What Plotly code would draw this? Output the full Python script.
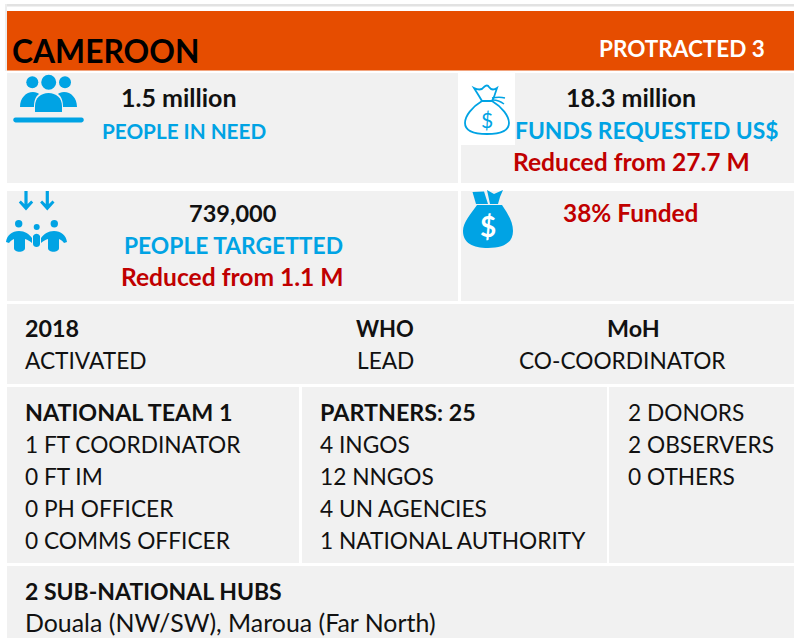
import plotly.graph_objects as go

COUNTRY = "CAMEROON"
STATUS = "PROTRACTED 3"
PEOPLE_IN_NEED = ["1.5 million", "PEOPLE IN NEED"]
FUNDS = ["18.3 million", "FUNDS REQUESTED US$", "Reduced from 27.7 M"]
TARGETED = ["739,000", "PEOPLE TARGETTED", "Reduced from 1.1 M"]
FUNDED = "38% Funded"
ACTIVATION = ["2018", "ACTIVATED"]
LEAD = ["WHO", "LEAD"]
CO_LEAD = ["MoH", "CO-COORDINATOR"]
TEAM = ["NATIONAL TEAM 1", "1 FT COORDINATOR", "0 FT IM", "0 PH OFFICER", "0 COMMS OFFICER"]
PARTNERS = ["PARTNERS: 25", "4 INGOS", "12 NNGOS", "4 UN AGENCIES", "1 NATIONAL AUTHORITY"]
OTHERS = ["2 DONORS", "2 OBSERVERS", "0 OTHERS"]
HUBS = ["2 SUB-NATIONAL HUBS", "Douala (NW/SW), Maroua (Far North)"]

FONT = "Lato"
BLUE = "#00A3E4"
RED = "#C00000"
GREY = "#F1F1F1"
ORANGE = "#E64D00"
INK = "#111111"
SIZE = 22.7
BOLD_SIZE = 23.3

shapes, notes = [], []


def rect(x0, y0, x1, y1, color):
    shapes.append(dict(type="rect", x0=x0, y0=y0, x1=x1, y1=y1, fillcolor=color,
                       line=dict(width=0), layer="below"))


def circle(cx, cy, r, color=BLUE):
    shapes.append(dict(type="circle", x0=cx - r, y0=cy - r, x1=cx + r, y1=cy + r,
                       fillcolor=color, line=dict(width=0)))


def path(d, fill=BLUE, stroke=None, width=0):
    s = dict(type="path", path=d, line=dict(width=width, color=stroke or fill))
    s["fillcolor"] = fill if fill else "rgba(0,0,0,0)"
    shapes.append(s)


def text(t, x, base, bold=False, color=INK, size=None, anchor="left"):
    size = size or (BOLD_SIZE if bold else SIZE)
    w = "<b>%s</b>" % t if bold else t
    notes.append(dict(text=w, x=x, y=base - 1 - 0.345 * size, xanchor=anchor, yanchor="middle",
                      showarrow=False, align=anchor, borderpad=0, borderwidth=0,
                      font=dict(family=FONT, size=size, color=color)))


# frame and panels
rect(5, 4, 794, 6.5, "#E2E2E2")
rect(5, 4, 7, 71, "#EDEDED")
rect(7, 11, 794, 70.5, ORANGE)
rect(7, 73, 458, 183, GREY)
rect(461, 73, 794, 183, GREY)
rect(461, 71, 515, 145, "#FFFFFF")
rect(7, 191, 458, 301, GREY)
rect(461, 191, 794, 301, GREY)
rect(7, 304, 794, 384, GREY)
rect(7, 387, 299, 563, GREY)
rect(302, 387, 607, 563, GREY)
rect(609, 387, 794, 563, GREY)
rect(7, 566, 794, 638, GREY)

# people-in-need icon
circle(32.3, 82.3, 6)
circle(48.7, 82.3, 7.5)
circle(65, 82.3, 6)
path("M20,107 C20,98 26,92 33,92 C36,92 38,93 39,94 C35,97 34,102 34,107 Z")
path("M77,107 C77,98 71,92 64,92 C61,92 59,93 58,94 C62,97 63,102 63,107 Z")
path("M35,112 L35,106 C35,98 41,93 48.5,93 C56,93 62,98 62,106 L62,112 Z")
path("M15.5,117.6 L81.5,117.6 C84.5,117.6 84.5,122.4 81.5,122.4 L15.5,122.4 C12.5,122.4 12.5,117.6 15.5,117.6 Z")

# outlined money bag
path("M482,101 C472,107 465,116 465,123 C465,131 473,134 487,134 C501,134 509,131 509,123 "
     "C509,116 502,107 492,101 Z", fill="#FFFFFF", stroke=BLUE, width=1.8)
path("M474,88 C478,90 482,90 484,87 C486,85 488,85 489,87 C491,90 494,90 497,88 "
     "L494,97 L492,101 L482,101 L479,96 Z", fill="#FFFFFF", stroke=BLUE, width=1.8)
path("M492,98 C497,97 501,97 505,98 M493,100 C497,100 500,101 504,104", fill=None, stroke=BLUE, width=1.5)
notes.append(dict(text="$", x=486.5, y=119, showarrow=False, xanchor="center", yanchor="middle",
                  font=dict(family=FONT, size=21, color=BLUE)))

# arrows and people icon
for ax in (26, 47.3):
    path(f"M{ax-1.6},191 L{ax+1.6},191 L{ax+1.6},204 L{ax+5.2},200.5 L{ax+7.2},202.5 L{ax},210.5 "
         f"L{ax-7.2},202.5 L{ax-5.2},200.5 L{ax-1.6},204 Z")
circle(18.7, 223.7, 3.7)
circle(36.7, 227, 3)
circle(54.3, 223.7, 3.7)
path("M6,242 C7,235 12,231 19,231 C25,231 29,234 32,238 L32,243 C30,241 28,240 25,239 L25,248 "
     "C25,253 14,253 14,248 L14,239 C11,240 10,242 9,243 Z")
path("M67,242 C66,235 61,231 54,231 C48,231 44,234 41,238 L41,243 C43,241 45,240 48,239 L48,248 "
     "C48,253 59,253 59,248 L59,239 C62,240 63,242 64,243 Z")
path("M33,236 C35,233 38,233 40,236 L40,244 C40,248 33,248 33,244 Z")

# filled money bag
path("M477,205 L502,205 C508,214 513,222 513,231 C513,243 503,248 488,248 C473,248 463,243 463,231 "
     "C463,222 471,214 477,205 Z")
path("M472.5,192 L484,191.5 L488,204 L476,204 Z")
path("M487,190 L494,194 L503,190 L500,197 L498,204 L490,204 Z")
notes.append(dict(text="<b>$</b>", x=488, y=226, showarrow=False, xanchor="center", yanchor="middle",
                  font=dict(family=FONT, size=28, color="#FFFFFF")))

# header
text(COUNTRY, 11.5, 62.5, bold=True, color="#000000", size=31.8)
text(STATUS, 765, 57, bold=True, color="#FFFFFF", size=22.5, anchor="right")

# top panels
text(PEOPLE_IN_NEED[0], 179, 107, bold=True, size=25, anchor="center")
text(PEOPLE_IN_NEED[1], 184, 139, bold=True, color=BLUE, size=20.7, anchor="center")
text(FUNDS[0], 631, 107, bold=True, size=25, anchor="center")
text(FUNDS[1], 646, 139, bold=True, color=BLUE, size=22.8, anchor="center")
text(FUNDS[2], 631, 171, bold=True, color=RED, size=24.6, anchor="center")
text(TARGETED[0], 233, 222, bold=True, size=23.5, anchor="center")
text(TARGETED[1], 233, 254, bold=True, color=BLUE, size=22.8, anchor="center")
text(TARGETED[2], 232, 286, bold=True, color=RED, size=24.6, anchor="center")
text(FUNDED, 630, 222, bold=True, color=RED, size=24.4, anchor="center")

# activation row
text(ACTIVATION[0], 25, 337, bold=True)
text(ACTIVATION[1], 25, 369)
text(LEAD[0], 385, 337, bold=True, size=22, anchor="center")
text(LEAD[1], 385, 369, anchor="center")
text(CO_LEAD[0], 633, 337, bold=True, anchor="center")
text(CO_LEAD[1], 622, 369, anchor="center")

# lists
for i, t in enumerate(TEAM):
    text(t, 25, 421 + 32 * i, bold=i == 0)
for i, t in enumerate(PARTNERS):
    text(t, 320, 421 + 32 * i, bold=i == 0)
for i, t in enumerate(OTHERS):
    text(t, 628, 421 + 32 * i)

text(HUBS[0], 25, 600, bold=True, size=23)
text(HUBS[1], 25, 632, size=24.9)

fig = go.Figure()
fig.update_layout(
    width=794, height=638, autosize=False,
    margin=dict(l=0, r=0, t=0, b=0, pad=0),
    paper_bgcolor="#FFFFFF", plot_bgcolor="#FFFFFF",
    xaxis=dict(range=[0, 794], visible=False, fixedrange=True),
    yaxis=dict(range=[638, 0], visible=False, fixedrange=True),
    shapes=shapes, annotations=notes, showlegend=False,
)
fig.write_html("out.html", config=dict(displayModeBar=False),
               post_script="document.body.style.margin='0';document.body.style.overflow='hidden';")
